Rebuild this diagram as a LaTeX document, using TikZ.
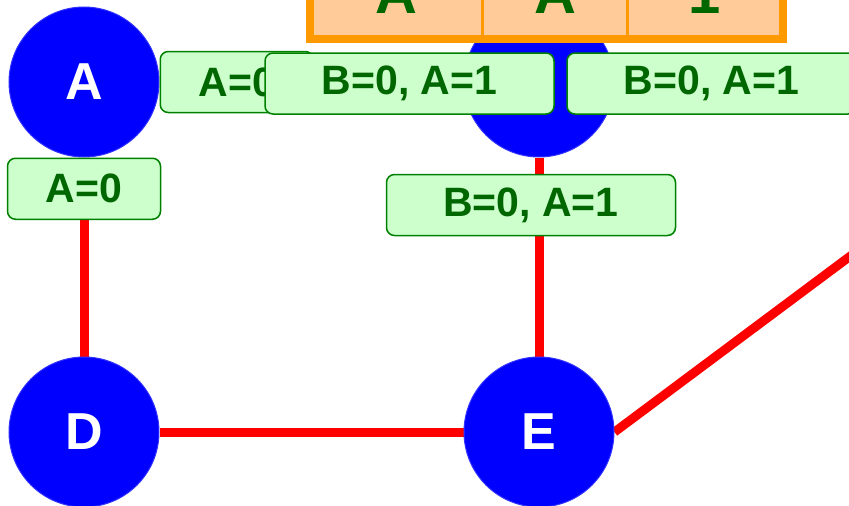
\documentclass[tikz,border=0pt]{standalone}
\usepackage{fontspec}
\setmainfont{Liberation Sans}
\usetikzlibrary{positioning,backgrounds}
\definecolor{nodeblue}{HTML}{0000FF}
\definecolor{ringblue}{HTML}{3333FF}
\definecolor{msgfill}{HTML}{CCFFCC}
\definecolor{msgline}{HTML}{008000}
\definecolor{msgtext}{HTML}{006600}
\definecolor{cellfill}{HTML}{FFCC99}
\definecolor{cellline}{HTML}{FF9900}

\begin{document}
\begin{tikzpicture}[x=1pt,y=-1pt,node distance=199pt and 304pt]

\tikzset{vertex/.style={shape=circle,fill=nodeblue,draw=ringblue,line width=1pt,inner sep=0pt,minimum size=150pt,text=white,font=\fontsize{52}{60}\selectfont\bfseries},
msg/.style={shape=rectangle,rounded corners=8pt,fill=msgfill,draw=msgline,line width=1.5pt,inner sep=0pt,minimum height=61pt,text=msgtext,font=\fontsize{41}{48}\selectfont\bfseries},
shortmsg/.style={msg,minimum width=153pt},
longmsg/.style={msg,minimum width=289pt},
tablecell/.style={shape=rectangle,fill=cellfill,draw=cellline,line width=1.5pt,inner sep=0pt,minimum height=88pt,text=msgtext,font=\fontsize{58}{66}\selectfont\bfseries},
link/.style={draw=red,line width=9pt}}

\useasboundingbox (0,0) rectangle (849,506);
\clip (0,0) rectangle (849,506);

% Graph nodes
\node (vA) [vertex] at (84,82) {A};
\node (vB) [vertex,right=of vA] {};
\node (vD) [vertex,below=of vA] {D};
\node (vE) [vertex,right=of vD] {E};
\coordinate (vF) at (1085,81);

% Edges
\begin{scope}[on background layer]
\draw[link] (vA.south) -- (vD.north);
\draw[link] (vD.east) -- (vE.west);
\draw[link] (vB.south) -- (vE.north);
\draw[link] (vE.east) -- (vF);
\end{scope}

% Table
\node (c1) [tablecell,minimum width=171pt] at (396.5,-6) {A};
\node (c2) [tablecell,minimum width=143pt,right=0pt of c1] {A};
\node (c3) [tablecell,minimum width=154pt,right=0pt of c2] {1};
\draw[cellline,line width=8pt] (c1.north west) rectangle (c3.south east);

% Messages
\node (mA2) [shortmsg,below=0pt of vA] {A=0};
\node (mA1) [shortmsg,right=0pt of vA] {A=0};
\node (mB1) [longmsg] at (409.5,83.5) {B=0, A=1};
\node (mB2) [longmsg] at (711.5,83.5) {B=0, A=1};
\node (mB3) [longmsg] at (531,205) {B=0, A=1};

\end{tikzpicture}
\end{document}
